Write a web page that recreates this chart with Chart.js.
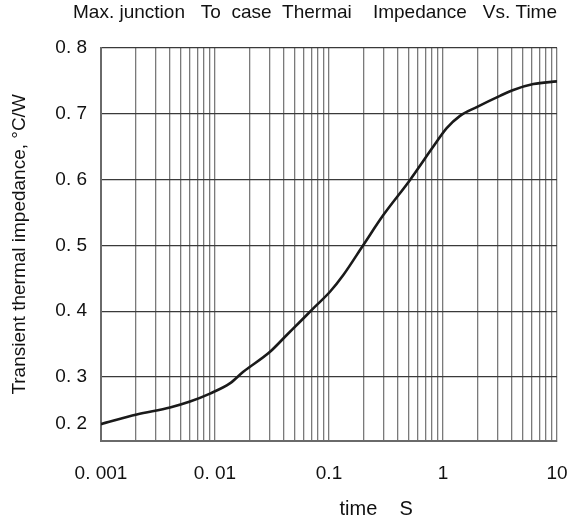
<!DOCTYPE html>
<html><head><meta charset="utf-8">
<script src="https://cdn.jsdelivr.net/npm/chart.js@4"></script>
<style>html,body{margin:0;padding:0;background:#fff}#wrap{width:580px;height:526px}</style>
</head><body><div id="wrap"><canvas id="c" width="580" height="526"></canvas></div>
<script>
const timeS = [0.001, 0.00206, 0.00403, 0.00604, 0.00904, 0.0135, 0.0177, 0.0304, 0.0426, 0.0557, 0.0728, 0.102, 0.1335, 0.2, 0.2995, 0.514, 0.822, 1.077, 1.41, 1.976, 3.16, 4.14, 6.2, 10];
const zth = [0.2286, 0.2433, 0.254, 0.263, 0.275, 0.2904, 0.308, 0.3385, 0.364, 0.384, 0.4044, 0.4296, 0.455, 0.5006, 0.546, 0.5994, 0.65, 0.678, 0.6967, 0.710, 0.727, 0.736, 0.745, 0.749];
const xMajorTicks = [0.001, 0.01, 0.1, 1, 10];
const xTickLabels = ['0. 001', '0. 01', '0.1', '1', '10'];
const xMinorSteps = [2, 3, 4, 5, 6, 7, 8, 9];
const yTickValues = [0.2286, 0.3, 0.4, 0.5, 0.6, 0.7, 0.8];
const yTickLabels = ['0. 2', '0. 3', '0. 4', '0. 5', '0. 6', '0. 7', '0. 8'];
const yMin = 0.203, yMax = 0.8;
const titleText = 'Max. junction   To  case  Thermai    Impedance   Vs. Time';
const xTitle = '                 time    S';
const yTitle = 'Transient thermal impedance, \u00B0C/W';

const FONT = 'Arial, "Liberation Sans", sans-serif';
const xGridValues = [];
xMajorTicks.forEach((m, i) => {
  xGridValues.push(m);
  if (i < xMajorTicks.length - 1) xMinorSteps.forEach(s => xGridValues.push(+(m * s).toPrecision(3)));
});

new Chart(document.getElementById('c'), {
  type: 'line',
  data: {
    datasets: [{
      data: timeS.map((t, i) => ({x: t, y: zth[i]})),
      borderColor: '#1a1a1a',
      borderWidth: 2.6,
      pointRadius: 0,
      cubicInterpolationMode: 'monotone',
      fill: false
    }]
  },
  options: {
    responsive: false,
    animation: false,
    layout: {padding: {left: 0, right: 23, top: 0, bottom: 0}},
    plugins: {
      legend: {display: false},
      tooltip: {enabled: false},
      title: {
        display: true, text: titleText, align: 'end', color: '#111',
        font: {family: FONT, size: 19, weight: 'normal', lineHeight: 1.2},
        padding: {top: 1, bottom: 24}
      }
    },
    scales: {
      x: {
        type: 'logarithmic', min: 0.001, max: 10,
        afterBuildTicks: s => { s.ticks = xGridValues.map(v => ({value: v})); },
        afterFit: s => { s.height = 85; },
        ticks: {
          autoSkip: false, maxRotation: 0, minRotation: 0, padding: 0, color: '#111',
          font: {family: FONT, size: 19, lineHeight: 3.47},
          callback: v => { const k = xMajorTicks.findIndex(m => Math.abs(m - v) / m < 1e-6); return k >= 0 ? xTickLabels[k] : ''; }
        },
        grid: {color: '#7a7a7a', lineWidth: 1.3, drawTicks: false},
        border: {display: true, color: '#6a6a6a', width: 2},
        title: {display: true, text: xTitle, color: '#111', font: {family: FONT, size: 20, lineHeight: 1.2}, padding: {top: 0, bottom: 5}}
      },
      y: {
        type: 'linear', min: yMin, max: yMax,
        afterBuildTicks: s => { s.ticks = yTickValues.map(v => ({value: v})); },
        afterFit: s => { s.width = 101; },
        ticks: {
          autoSkip: false, padding: 14, color: '#111',
          font: {family: FONT, size: 19, lineHeight: 1},
          callback: (v, i) => yTickLabels[i]
        },
        grid: {color: c => (c.tick && c.index === 0) ? 'rgba(0,0,0,0)' : '#3a3a3a', lineWidth: 1.3, drawTicks: false},
        border: {display: true, color: '#6a6a6a', width: 2},
        title: {display: true, text: yTitle, color: '#111', font: {family: FONT, size: 19, lineHeight: 1.2}, padding: {top: 8, bottom: 0}}
      }
    }
  }
});
</script></body></html>
